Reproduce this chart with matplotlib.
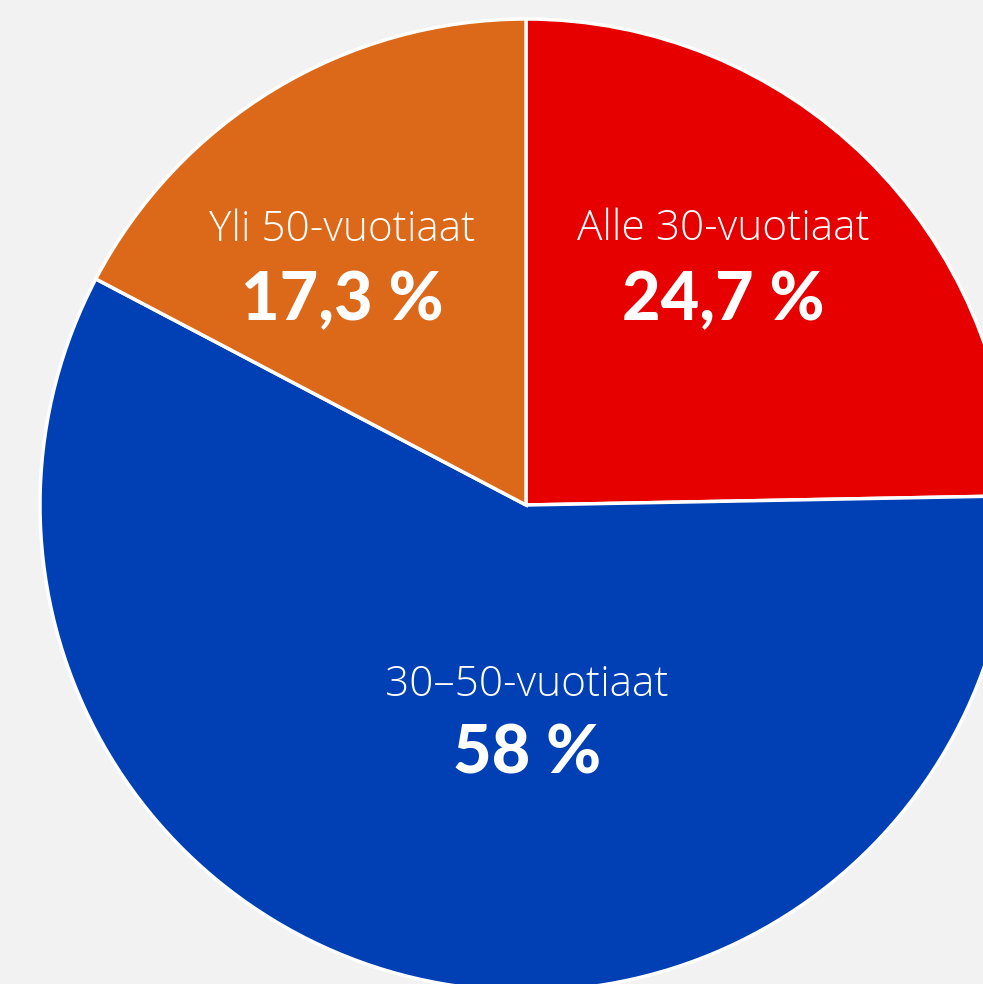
import matplotlib
matplotlib.use("Agg")
import matplotlib.pyplot as plt

labels = ["Alle 30-vuotiaat", "30–50-vuotiaat", "Yli 50-vuotiaat"]
values = [24.7, 58.0, 17.3]
value_texts = ["24,7 %", "58 %", "17,3 %"]
colors = ["#e60000", "#003fb4", "#dc6819"]

W, H = 983, 984
fig = plt.figure(figsize=(W / 100, H / 100), dpi=100)
fig.patch.set_facecolor("#f2f2f2")
ax = fig.add_axes([0, 0, 1, 1])

cx, cy, r = 526, H - 505, 486
ax.pie(values, colors=colors, startangle=90, counterclock=False,
       center=(cx, cy), radius=r, frame=True,
       wedgeprops=dict(edgecolor="white", linewidth=2.5))
ax.set_xlim(0, W)
ax.set_ylim(0, H)
ax.set_aspect("equal")
ax.axis("off")

# text positions (pixel coords from top)
label_pos = [(723, 229), (527, 685), (342, 230)]
value_pos = [(723, 301), (527, 755), (342, 301)]

for lab, vt, (lx, ly), (vx, vy) in zip(labels, value_texts, label_pos, value_pos):
    ax.text(lx, H - ly, lab, ha="center", va="center", color="white",
            fontsize=30.5, family=["Open Sans", "DejaVu Sans"], fontweight="light")
    ax.text(vx, H - vy, vt, ha="center", va="center", color="white",
            fontsize=48, family=["Lato", "DejaVu Sans"], fontweight="black")

fig.savefig("out.png", dpi=100, facecolor=fig.get_facecolor())
